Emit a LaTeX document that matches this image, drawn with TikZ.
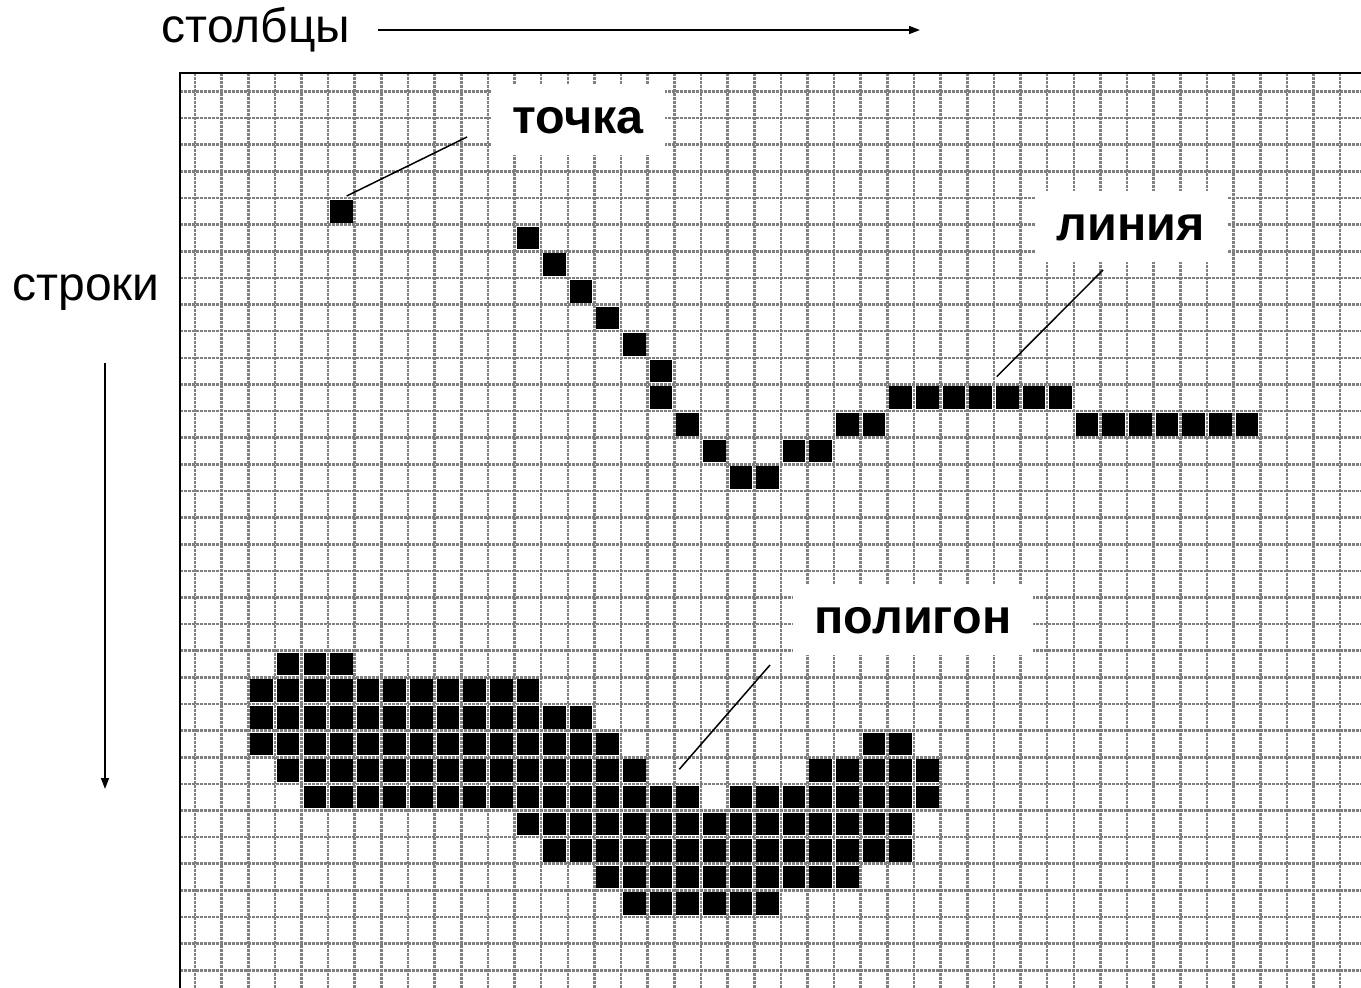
\documentclass[tikz,border=0pt]{standalone}
\usepackage{fontspec}
\setmainfont{Liberation Sans}
\usetikzlibrary{arrows.meta}
\begin{document}
\begin{tikzpicture}[x=1pt,y=-1pt,
  gridline/.style={line width=2.6pt, draw=black!50, dash pattern=on 3pt off 1pt},
  pix/.style={fill=black},
  tag/.style={fill=white, font=\fontsize{48.5}{48.5}\selectfont\bfseries, text height=49pt, text depth=22pt, inner xsep=22pt, inner ysep=0pt, anchor=base},
  axislabel/.style={font=\fontsize{48}{48}\selectfont, inner sep=0pt, anchor=base},
  pointer/.style={line width=1.5pt},
  axisarrow/.style={line width=1.5pt, -{Triangle[length=11pt,width=8pt]}}
]
\useasboundingbox (0,0) rectangle (1361,988);
\def\s{26.63}
% grid
\begin{scope}
\clip (179.5,72.5) rectangle (1361,988);
\foreach \k in {0,...,43} \draw[gridline] ({195+\s*\k},72.5) -- ({195+\s*\k},988);
\foreach \j in {0,...,33} \draw[gridline] (179.5,{91.5+\s*\j}) -- (1361,{91.5+\s*\j});
\end{scope}
\draw[line width=2pt] (179.5,988) -- (179.5,72.5) -- (1361,72.5);
% point and line cells
\foreach \c/\r in {5/4, 12/5, 13/6, 14/7, 15/8, 16/9, 17/10, 17/11, 18/12, 19/13, 20/14, 21/14, 22/13, 23/13, 24/12, 25/12}
  \fill[pix] ({195+\s*\c+2},{91.5+\s*\r+2}) rectangle ++(22.6,22.6);
% runs of cells: row/first/last
\foreach \r/\a/\b in {11/26/32, 12/33/39,
  21/3/5, 22/2/12, 23/2/14, 24/2/15, 24/25/26, 25/3/16, 25/23/27,
  26/4/18, 26/20/27, 27/12/26, 28/13/26, 29/15/24, 30/16/21}
  {\foreach \c in {\a,...,\b}
    \fill[pix] ({195+\s*\c+2},{91.5+\s*\r+2}) rectangle ++(22.6,22.6);}
% labels
\node[tag] (tochka) at (578,133.3) {точка};
\node[tag] (liniya) at (1131,240) {линия};
\node[tag] (poligon) at (913,633.3) {полигон};
\node[axislabel] (cols) at (256,42) {столбцы};
\node[axislabel] (rows) at (86,300) {строки};
% pointers
\coordinate (ptA) at (346.7,196); \coordinate (ptB) at (467,137);
\coordinate (lnA) at (996.7,376.7); \coordinate (lnB) at (1103,270);
\coordinate (pgA) at (679.3,769.3); \coordinate (pgB) at (770,665);
\draw[pointer] (ptA) -- (ptB);
\draw[pointer] (lnA) -- (lnB);
\draw[pointer] (pgA) -- (pgB);
% axis arrows
\coordinate (c0) at (378,30); \coordinate (c1) at (920,30);
\coordinate (r0) at (105,363); \coordinate (r1) at (105,789);
\draw[axisarrow] (c0) -- (c1);
\draw[axisarrow] (r0) -- (r1);
\end{tikzpicture}
\end{document}
